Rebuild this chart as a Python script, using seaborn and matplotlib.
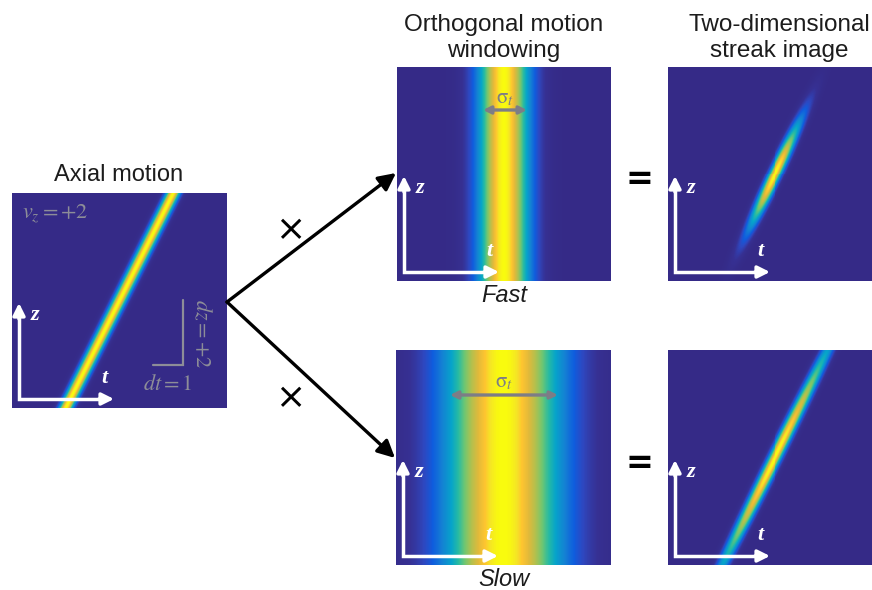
import numpy as np
import pandas as pd
import seaborn as sns
import matplotlib.pyplot as plt
from matplotlib.colors import LinearSegmentedColormap

# grid of the model images (t across, z up), both in arbitrary units
t_vals = np.linspace(-1, 1, 215)
z_vals = np.linspace(-1, 1, 215)

# axial motion: a line z = v_z * t with a gaussian cross-section
v_z = 2.0
line_sigma = 0.045

# orthogonal motion windows (gaussian in t)
window_names = ['Fast', 'Slow']
window_sigmas = [0.165, 0.37]

titles = ['Axial motion', 'Orthogonal motion\nwindowing', 'Two-dimensional\nstreak image']

# parula-like colormap
parula_pos = [0.0, 0.06, 0.13, 0.2, 0.3, 0.42, 0.52, 0.62, 0.72, 0.82, 0.9, 0.95, 1.0]
parula_rgb = [(0.2081, 0.1663, 0.5292), (0.2116, 0.1898, 0.5777), (0.1801, 0.2790, 0.7516),
              (0.0592, 0.3599, 0.8683), (0.0779, 0.5040, 0.8278), (0.0232, 0.6407, 0.7925),
              (0.1500, 0.7300, 0.6400), (0.4372, 0.7769, 0.4423), (0.6904, 0.7552, 0.3081),
              (0.8834, 0.7273, 0.2264), (0.9949, 0.7719, 0.1856), (0.9597, 0.8989, 0.1427),
              (0.9763, 0.9831, 0.0538)]
parula = LinearSegmentedColormap.from_list('parula', list(zip(parula_pos, parula_rgb)))

W, H = 872, 590
GREY = '#8d8d98'
INK = '#1c1c1c'

sns.set_theme(style='white')
plt.rcParams['font.family'] = ['Liberation Sans', 'DejaVu Sans']
plt.rcParams['mathtext.fontset'] = 'stix'
plt.rcParams['text.color'] = INK

fig = plt.figure(figsize=(W / 100, H / 100), dpi=100)
fig.patch.set_facecolor('white')


def px_axes(x, y, w, h):
    return fig.add_axes([x / W, 1 - (y + h) / H, w / W, h / H])


def draw_image(ax, img):
    df = pd.DataFrame(img[::-1], index=z_vals[::-1], columns=t_vals)
    sns.heatmap(df, ax=ax, cmap=parula, vmin=0, vmax=1, cbar=False,
                xticklabels=False, yticklabels=False)
    ax.set_xlabel('')
    ax.set_ylabel('')


T, Z = np.meshgrid(t_vals, z_vals)
axial = np.exp(-(T - Z / v_z) ** 2 / (2 * line_sigma ** 2))

# panels: (x, y, w, h) in pixels from top-left
draw_image(px_axes(12, 193, 215, 215), axial)
win_boxes = [(397, 67, 214, 214), (396, 350, 215, 215)]
streak_boxes = [(668, 67, 214, 214), (668, 350, 214, 215)]
for s, wb, sb in zip(window_sigmas, win_boxes, streak_boxes):
    window = np.exp(-T ** 2 / (2 * s ** 2))
    draw_image(px_axes(*wb), window)
    draw_image(px_axes(*sb), axial * window)

# overlay in pixel coordinates for the annotations
ov = fig.add_axes([0, 0, 1, 1])
ov.set_xlim(0, W)
ov.set_ylim(H, 0)
ov.axis('off')
ov.set_zorder(5)
ov.patch.set_visible(False)


def axis_arrows(left, bottom):
    cx, cy = left + 7, bottom - 9
    ov.plot([cx, cx, cx + 82], [cy - 82, cy, cy], color='white', lw=2.5,
            solid_joinstyle='miter', solid_capstyle='butt')
    head = dict(arrowstyle='-|>', color='white', lw=2.5, mutation_scale=18, shrinkA=0, shrinkB=0)
    ov.annotate('', xy=(cx, cy - 96), xytext=(cx, cy - 80), arrowprops=head)
    ov.annotate('', xy=(cx + 95, cy), xytext=(cx + 80, cy), arrowprops=head)
    txt = dict(color='white', family='Liberation Serif', style='italic', weight='bold',
               fontsize=16, ha='center', va='center')
    ov.text(cx + 16, cy - 84, 'z', **txt)
    ov.text(cx + 85, cy - 21, 't', **txt)


axis_arrows(12, 408)
for wb, sb in zip(win_boxes, streak_boxes):
    axis_arrows(wb[0], wb[1] + wb[3])
    axis_arrows(sb[0], sb[1] + sb[3])

# titles
ov.text(119, 175, titles[0], fontsize=17, ha='center', va='center')
ov.text(504, 38, titles[1], fontsize=17.5, ha='center', va='center', linespacing=1.24)
ov.text(779, 38, titles[2], fontsize=17.5, ha='center', va='center', linespacing=1.24)
ov.text(504, 296, window_names[0], fontsize=17, style='italic', ha='center', va='center')
ov.text(504, 579, window_names[1], fontsize=17, style='italic', ha='center', va='center')

# labels on the axial panel
ov.text(55, 214, r'$v_z = +2$', color=GREY, fontsize=16, ha='center', va='center')
ov.text(168, 385, r'$dt = 1$', color=GREY, fontsize=16, ha='center', va='center')
ov.text(201, 334, r'$dz = +2$', color=GREY, fontsize=16, ha='center', va='center', rotation=-90)
ov.plot([153, 183, 183], [365, 365, 300], color=GREY, lw=1.6, solid_joinstyle='miter')

# sigma_t markers
sig = dict(arrowstyle='<|-|>', color='#7d7d86', lw=2.4, mutation_scale=11, shrinkA=0, shrinkB=0)
ov.annotate('', xy=(527, 110), xytext=(483, 110), arrowprops=sig)
ov.text(505, 98, r'$\mathrm{\sigma}_t$', color='#7d7d86', fontsize=15, ha='center', va='center')
ov.annotate('', xy=(558, 395), xytext=(450, 395), arrowprops=sig)
ov.text(504, 382, r'$\mathrm{\sigma}_t$', color='#7d7d86', fontsize=15, ha='center', va='center')

# branching arrows and operators
big = dict(arrowstyle='-|>', color='black', lw=2.4, mutation_scale=26, shrinkA=0, shrinkB=0)
ov.annotate('', xy=(396, 173), xytext=(227, 302), arrowprops=big)
ov.annotate('', xy=(395, 458), xytext=(227, 302), arrowprops=big)
ov.text(290, 230, '\u00d7', fontsize=26, ha='center', va='center', family='DejaVu Sans', color='black')
ov.text(290, 398, '\u00d7', fontsize=26, ha='center', va='center', family='DejaVu Sans', color='black')
ov.text(639, 180, '=', fontsize=24, weight='bold', ha='center', va='center', family='DejaVu Sans', color='black')
ov.text(639, 463, '=', fontsize=24, weight='bold', ha='center', va='center', family='DejaVu Sans', color='black')

fig.savefig('out.png', dpi=100, facecolor='white')
plt.close(fig)
